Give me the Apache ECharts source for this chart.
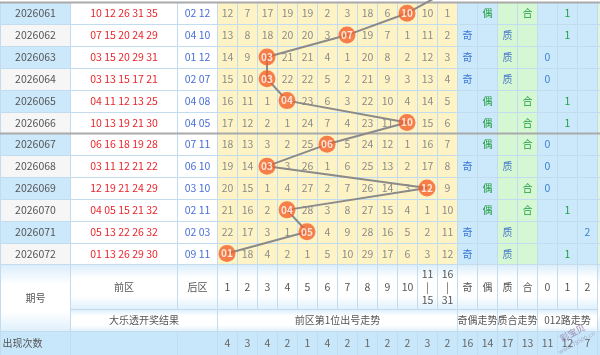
<!DOCTYPE html>
<html><head><meta charset="utf-8">
<script src="https://cdn.jsdelivr.net/npm/echarts@6/dist/echarts.min.js"></script>
<style>html,body{margin:0;padding:0;background:#fff}#c{width:600px;height:355px}</style>
</head><body><div id="c"></div>
<script>
// ---------------- DATA ----------------
const periods = ['2026061','2026062','2026063','2026064','2026065','2026066','2026067','2026068','2026069','2026070','2026071','2026072'];
const frontNums = ['10 12 26 31 35','07 15 20 24 29','03 15 20 29 31','03 13 15 17 21','04 11 12 13 25','10 13 19 21 30','06 16 18 19 28','03 11 12 21 22','12 19 21 24 29','04 05 15 21 32','05 13 22 26 32','01 13 26 29 30'];
const backNums = ['02 12','04 10','01 12','02 07','04 08','04 05','07 11','06 10','03 10','02 11','02 03','09 11'];
// omission values of the 12 trend columns (null = the drawn number sits there)
const trend = [
  [12, 7,17,19,19, 2, 3,18, 6,null,10, 1],
  [13, 8,18,20,20, 3,null,19, 7, 1,11, 2],
  [14, 9,null,21,21, 4, 1,20, 8, 2,12, 3],
  [15,10,null,22,22, 5, 2,21, 9, 3,13, 4],
  [16,11, 1,null,23, 6, 3,22,10, 4,14, 5],
  [17,12, 2, 1,24, 7, 4,23,11,null,15, 6],
  [18,13, 3, 2,25,null, 5,24,12, 1,16, 7],
  [19,14,null, 3,26, 1, 6,25,13, 2,17, 8],
  [20,15, 1, 4,27, 2, 7,26,14, 3,null, 9],
  [21,16, 2,null,28, 3, 8,27,15, 4, 1,10],
  [22,17, 3, 1,null, 4, 9,28,16, 5, 2,11],
  [null,18, 4, 2, 1, 5,10,29,17, 6, 3,12]
];
const firstNum = [10,7,3,3,4,10,6,3,12,4,5,1];
const prevFirst = 16;               // 2026060 first number group (16-31), line enters from above
const oddEven = ['偶','奇','奇','奇','偶','偶','偶','奇','偶','偶','奇','奇'];
const primeComp = ['合','质','质','质','合','合','合','质','合','合','质','质'];
const route012 = [1,1,0,0,1,1,0,0,0,1,2,1];
const trendHeaders = ['1','2','3','4','5','6','7','8','9','10','11\n|\n15','16\n|\n31'];
const rightHeaders = ['奇','偶','质','合','0','1','2'];
const leftHeaders = ['期号','前区','后区'];
const groupTitles = ['大乐透开奖结果','前区第1位出号走势','奇偶走势','质合走势','012路走势'];
const countLabel = '出现次数';
const counts = [4,3,4,2,1,4,2,1,2,2,3,2,16,14,17,13,11,12,7];

// ---------------- LAYOUT ----------------
const X_MIN = -10.85, X_MAX = 19.15;          // unit = one trend column
const LEFT_EDGES = [-10.85, -7.375, -2, 0];   // 期号 | 前区 | 后区 |
const Y_MIN = -0.105, Y_MAX = 16.142;         // unit = one data row
const H1 = [12, 14.037], H2 = [14.037, 15.021], CNT = [15.021, 16.142];
const FONT = "'Noto Sans CJK SC','Noto Sans',sans-serif";
const NUM_FS = 10.5, CJK_FS = 10;
const STROKE = '#c3dbef';
const hdrFill = {type:'linear',x:0,y:0,x2:0,y2:1,colorStops:[{offset:0,color:'#d9edfb'},{offset:0.3,color:'#ffffff'},{offset:0.7,color:'#ffffff'},{offset:1,color:'#ddeffc'}]};
const rightFill = ['#cce8fb','#cce8fb','#d6f7d4','#d6f7d4','#cce8fb','#cce8fb','#cce8fb'];
const rightColor = ['#3b78d6','#1e9e3c','#4c7cc8','#1e9e3c','#3b84d6','#1ea344','#3b84d6'];

const colOf = n => n <= 10 ? n - 1 : (n <= 15 ? 10 : 11);
const pad2 = n => (n < 10 ? '0' : '') + n;

const cells = [];
function cell(x0,x1,y0,y1,o){ cells.push(Object.assign({x0,x1,y0,y1,fill:'#fff',text:'',color:'#555',fontSize:NUM_FS,align:'center'},o||{})); }

for (let r = 0; r < periods.length; r++) {
  cell(LEFT_EDGES[0], LEFT_EDGES[1], r, r+1, {fill: r%2===0 ? '#cce9fb' : '#f6f6f6', text: periods[r], color:'#555'});
  cell(LEFT_EDGES[1], LEFT_EDGES[2], r, r+1, {text: frontNums[r], color:'#e8262b'});
  cell(LEFT_EDGES[2], LEFT_EDGES[3], r, r+1, {text: backNums[r], color:'#4a6fd8'});
  for (let k = 0; k < 12; k++) {
    const v = trend[r][k];
    cell(k, k+1, r, r+1, {fill:'#fdf3c4', text: v == null ? '' : String(v), color:'#8c8c8c'});
  }
  const rt = [
    oddEven[r]==='奇' ? '奇' : '', oddEven[r]==='偶' ? '偶' : '',
    primeComp[r]==='质' ? '质' : '', primeComp[r]==='合' ? '合' : '',
    route012[r]===0 ? '0' : '', route012[r]===1 ? '1' : '', route012[r]===2 ? '2' : ''
  ];
  for (let j = 0; j < 7; j++) cell(12+j, 13+j, r, r+1, {fill: rightFill[j], text: rt[j], color: rightColor[j], fontSize: j < 4 ? CJK_FS : NUM_FS});
  cell(19, X_MAX, r, r+1, {fill:'#dff5e0'});
}
// header row 1
cell(LEFT_EDGES[0], LEFT_EDGES[1], H1[0], H2[1], {fill: hdrFill, text: leftHeaders[0], fontSize: CJK_FS});
cell(LEFT_EDGES[1], LEFT_EDGES[2], H1[0], H1[1], {fill: hdrFill, text: leftHeaders[1], fontSize: CJK_FS});
cell(LEFT_EDGES[2], LEFT_EDGES[3], H1[0], H1[1], {fill: hdrFill, text: leftHeaders[2], fontSize: CJK_FS});
for (let k = 0; k < 12; k++) cell(k, k+1, H1[0], H1[1], {fill: hdrFill, text: trendHeaders[k], lineHeight: 13});
for (let j = 0; j < 7; j++) cell(12+j, 13+j, H1[0], H1[1], {fill: hdrFill, text: rightHeaders[j], fontSize: j < 4 ? CJK_FS : NUM_FS});
cell(19, X_MAX, H1[0], H2[1], {fill: hdrFill});
// header row 2
const gSpan = [[LEFT_EDGES[1], 0],[0,12],[12,14],[14,16],[16,19]];
groupTitles.forEach((t,i) => cell(gSpan[i][0], gSpan[i][1], H2[0], H2[1], {fill: hdrFill, text: t, fontSize: CJK_FS}));
// count row
cell(LEFT_EDGES[0], LEFT_EDGES[1], CNT[0], CNT[1], {fill:'#c8e7fb', text: countLabel, align:'left', fontSize: CJK_FS});
cell(LEFT_EDGES[1], LEFT_EDGES[2], CNT[0], CNT[1], {fill:'#c8e7fb'});
cell(LEFT_EDGES[2], LEFT_EDGES[3], CNT[0], CNT[1], {fill:'#c8e7fb'});
counts.forEach((c,k) => cell(k, k+1, CNT[0], CNT[1], {fill:'#c8e7fb', text:String(c), color:'#666'}));
cell(19, X_MAX, CNT[0], CNT[1], {fill:'#c8e7fb'});

const sepRows = [0, 6];

function renderCell(params, api) {
  const c = cells[params.dataIndex];
  const p0 = api.coord([c.x0, c.y0]), p1 = api.coord([c.x1, c.y1]);
  const x0 = Math.round(p0[0]) + 0.5, x1 = Math.round(p1[0]) + 0.5;
  const y0 = Math.round(p0[1]) + 0.5, y1 = Math.round(p1[1]) + 0.5;
  const children = [{type:'rect', shape:{x:x0, y:y0, width:x1-x0, height:y1-y0}, style:{fill:c.fill, stroke:STROKE, lineWidth:1}}];
  if (c.text) children.push({type:'text', style:{text:c.text, x: c.align==='left' ? x0+2 : (x0+x1)/2, y:(y0+y1)/2,
    align:c.align, verticalAlign:'middle', fill:c.color, fontSize:c.fontSize, fontFamily:FONT, lineHeight:c.lineHeight||14}});
  return {type:'group', children};
}
function renderSep(params, api) {
  const y = sepRows[params.dataIndex];
  const a = api.coord([X_MIN, y]), b = api.coord([X_MAX, y]);
  const yy = Math.round(a[1]) + 0.5;
  return {type:'line', shape:{x1:a[0], y1:yy, x2:b[0], y2:yy}, style:{stroke:'#a9a9a9', lineWidth:2}};
}

const ballPts = firstNum.map((n, r) => [colOf(n) + 0.5, r + 0.5, n]);
const linePts = [[colOf(prevFirst) + 0.5, -0.5]].concat(ballPts.map(p => [p[0], p[1]]));

const chart = echarts.init(document.getElementById('c'), null, {renderer:'canvas'});
chart.setOption({
  animation: false,
  grid: {left:0, right:0, top:0, bottom:0},
  xAxis: {type:'value', min:X_MIN, max:X_MAX, show:false},
  yAxis: {type:'value', min:Y_MIN, max:Y_MAX, inverse:true, show:false},
  graphic: [{type:'group', x:560, y:355, rotation:0.5, z:100, silent:true, children:[
    {type:'text', x:8, y:-18, z:100, style:{text:'彩宝贝', fill:'rgba(140,110,150,0.55)', fontSize:9, fontWeight:'bold', fontFamily:FONT}},
    {type:'text', x:0, y:-6, z:100, style:{text:'www.78500.cn', fill:'rgba(140,110,150,0.5)', fontSize:6, fontFamily:FONT}}
  ]}],
  series: [
    {type:'custom', renderItem: renderCell, data: cells.map(c => [c.x0, c.y0]), z:1, silent:true, clip:false},
    {type:'custom', renderItem: renderSep, data: sepRows.map(y => [X_MIN, y]), z:2, silent:true},
    {type:'line', data: linePts, symbol:'none', lineStyle:{color:'#8a8a8a', width:2}, z:3, silent:true, clip:true},
    {type:'scatter', data: ballPts, symbol:'circle', symbolSize:17, z:4, silent:true,
      itemStyle:{color:'#f4602a'},
      label:{show:true, position:'inside', formatter: p => pad2(p.data[2]), color:'#fff', fontSize:10, fontWeight:'bold', fontFamily:FONT}}
  ]
});
</script></body></html>
